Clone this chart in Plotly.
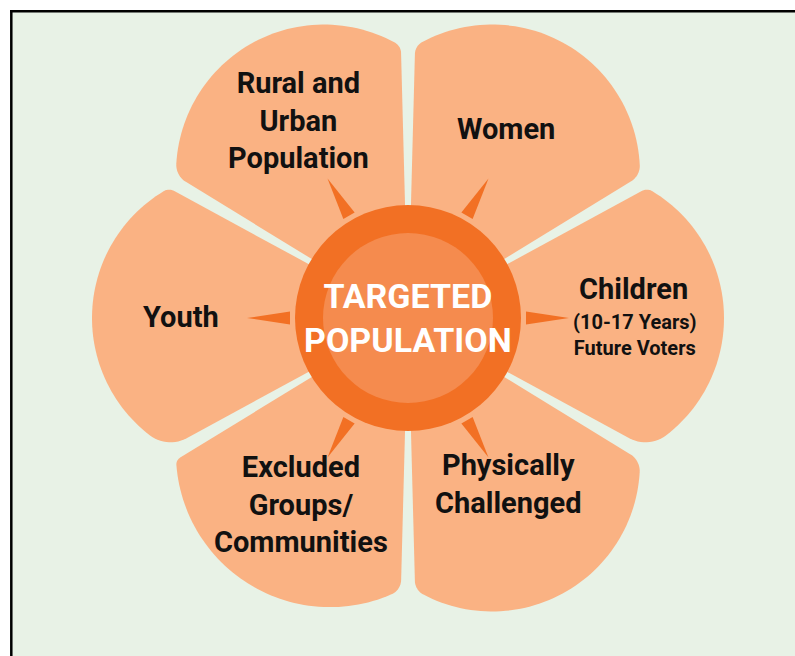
import numpy as np
import plotly.graph_objects as go

# ---------------- data ----------------
center_title = ["TARGETED", "POPULATION"]
categories = ["Women", "Rural and<br>Urban<br>Population", "Youth",
              "Excluded<br>Groups/<br>Communities", "Physically<br>Challenged", "Children"]
category_notes = ["", "", "", "", "", "(10-17 Years)<br>Future Voters"]
petal_angles = [60, 120, 180, 240, 300, 0]          # direction of each petal (deg)
petal_reach = [316, 316, 316, 310, 316, 316]         # petal tip distance
corner_round_cw = [18, 12, 10, 8, 16, 34]            # rounding of clockwise corner
corner_round_ccw = [14, 20, 34, 16, 20, 10]          # rounding of counter-clockwise corner

# ---------------- style / layout ----------------
W, H = 795, 656
CX, CY = 408, 318
RING_R, INNER_R = 113, 85
BG = "#E8F2E6"
PETAL = "#FAB283"
RING = "#F27024"
INNER = "#F58B4E"
TXT = "#111111"
FONT = "Roboto, Liberation Sans Narrow, DejaVu Sans Condensed, sans-serif"

label_pos = {0: (506, 129), 1: (298, 120), 2: (181, 317), 3: (301, 504), 4: (508, 484), 5: (633, 289)}
note_pos = {5: (635, 335)}


def arc(center, p, q, n=24):
    a0 = np.arctan2(p[1] - center[1], p[0] - center[0])
    a1 = np.arctan2(q[1] - center[1], q[0] - center[0])
    d = (a1 - a0 + np.pi) % (2 * np.pi) - np.pi
    r = np.hypot(p[0] - center[0], p[1] - center[1])
    t = np.linspace(a0, a0 + d, n)
    return [(center[0] + r * np.cos(a), center[1] + r * np.sin(a)) for a in t]


def petal_points(phi_deg, L, rho_cw, rho_ccw, rc=272.0, half=28.5, r0=95.0):
    A = np.radians(half)
    c = (L ** 2 - rc ** 2) / (2 * (L - rc * np.cos(A)))
    R = L - c
    C = np.array([c, 0.0])

    def fillet(rho, s):
        u = np.array([np.cos(A), s * np.sin(A)])
        nrm = np.array([np.sin(A), -s * np.cos(A)])
        D = rho * nrm - C
        b = u @ D
        t = -b + np.sqrt(b * b - D @ D + (R - rho) ** 2)
        F = t * u + rho * nrm
        T1 = t * u
        T2 = C + R * (F - C) / np.linalg.norm(F - C)
        return T1, F, T2

    T1a, Fa, T2a = fillet(rho_cw, -1)
    T1b, Fb, T2b = fillet(rho_ccw, +1)
    pts = [(r0 * np.cos(A), -r0 * np.sin(A))]
    pts += arc(Fa, T1a, T2a, 14)
    pts += arc(C, T2a, T2b, 60)
    pts += arc(Fb, T2b, T1b, 14)
    pts += [(r0 * np.cos(A), r0 * np.sin(A))]
    ph = np.radians(phi_deg)
    out = []
    for x, y in pts:
        X = x * np.cos(ph) - y * np.sin(ph)
        Y = x * np.sin(ph) + y * np.cos(ph)
        out.append((CX + X, CY - Y))
    return out


def path_of(pts):
    return "M " + " L ".join(f"{x:.2f},{y:.2f}" for x, y in pts) + " Z"


def thorn(phi_deg, rb=118.0, rt=161.0, hw=6.5):
    ph = np.radians(phi_deg)
    u = np.array([np.cos(ph), np.sin(ph)])
    n = np.array([-np.sin(ph), np.cos(ph)])
    pts = [rb * u + hw * n, rt * u, rb * u - hw * n]
    return [(CX + p[0], CY - p[1]) for p in pts]


shapes = [dict(type="rect", xref="x", yref="y", x0=11.3, y0=11.3, x1=W + 10, y1=H + 10,
               fillcolor=BG, line=dict(width=0), layer="below"),
          dict(type="line", xref="x", yref="y", x0=11.3, y0=10.05, x1=11.3, y1=H + 10,
               line=dict(color="black", width=2.5)),
          dict(type="line", xref="x", yref="y", x0=10.05, y0=11.3, x1=W + 10, y1=11.3,
               line=dict(color="black", width=2.5))]
for i, ang in enumerate(petal_angles):
    shapes.append(dict(type="path", xref="x", yref="y",
                       path=path_of(petal_points(ang, petal_reach[i], corner_round_cw[i], corner_round_ccw[i])),
                       fillcolor=PETAL, line=dict(width=0)))
shapes.append(dict(type="circle", xref="x", yref="y", x0=CX - RING_R, x1=CX + RING_R,
                   y0=CY - RING_R, y1=CY + RING_R, fillcolor=RING, line=dict(width=0)))
shapes.append(dict(type="circle", xref="x", yref="y", x0=CX - INNER_R, x1=CX + INNER_R,
                   y0=CY - INNER_R, y1=CY + INNER_R, fillcolor=INNER, line=dict(width=0)))
for ang in petal_angles:
    shapes.append(dict(type="path", xref="x", yref="y", path=path_of(thorn(ang)),
                       fillcolor=RING, line=dict(width=0)))

annotations = []
for i, lab in enumerate(categories):
    x, y = label_pos[i]
    annotations.append(dict(x=x, y=y, xref="x", yref="y", text="<b>" + lab + "</b>", showarrow=False,
                            font=dict(family=FONT, size=29, color=TXT), align="center",
                            xanchor="center", yanchor="middle"))
    if category_notes[i]:
        nx, ny = note_pos[i]
        annotations.append(dict(x=nx, y=ny, xref="x", yref="y", text="<b>" + category_notes[i] + "</b>",
                                showarrow=False, font=dict(family=FONT, size=20, color=TXT),
                                align="center", xanchor="center", yanchor="middle"))
annotations.append(dict(x=CX, y=CY, xref="x", yref="y",
                        text="<b>" + "<br>".join(center_title) + "</b>", showarrow=False,
                        font=dict(family=FONT, size=34, color="white"), align="center",
                        xanchor="center", yanchor="middle"))

fig = go.Figure()
fig.add_trace(go.Scatter(x=[CX], y=[CY], mode="markers", marker=dict(size=1, opacity=0),
                         hoverinfo="skip", showlegend=False))
fig.update_layout(width=W, height=H, margin=dict(l=0, r=0, t=0, b=0),
                  paper_bgcolor="white", plot_bgcolor="white",
                  xaxis=dict(range=[0, W], visible=False, fixedrange=True),
                  yaxis=dict(range=[H, 0], visible=False, fixedrange=True),
                  shapes=shapes, annotations=annotations, showlegend=False)
fig.write_html("out.html", config={"displayModeBar": False, "staticPlot": True},
               post_script="document.body.style.margin='0';"
                           "document.documentElement.style.overflow='hidden';"
                           "document.body.style.overflow='hidden';")
